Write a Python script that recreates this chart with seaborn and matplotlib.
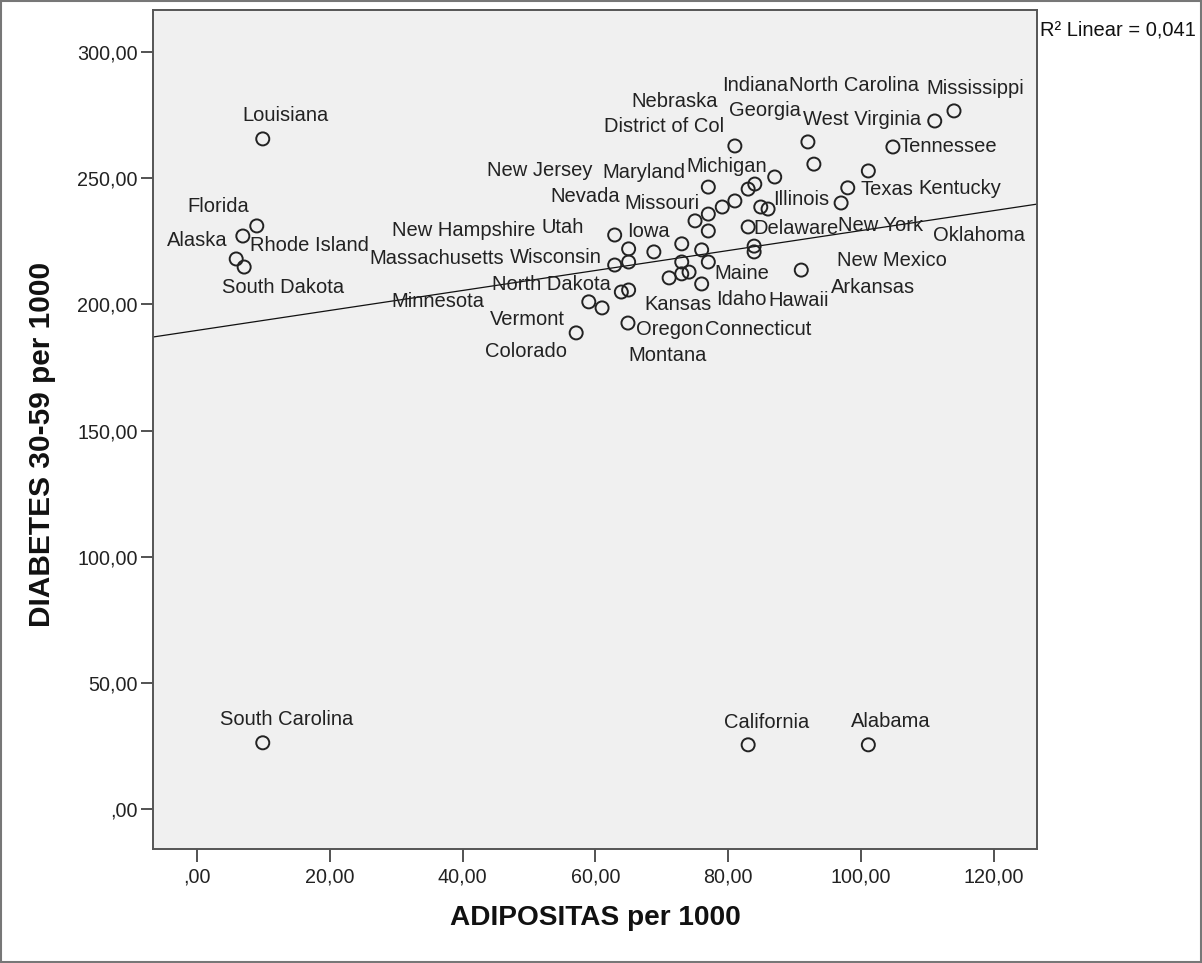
import matplotlib
matplotlib.use("Agg")
import matplotlib.pyplot as plt
import seaborn as sns
import pandas as pd
from matplotlib.ticker import FuncFormatter, FixedLocator
from matplotlib.patches import Rectangle

# ---------------- data ----------------
states = ["Louisiana", "South Carolina", "California", "Alabama", "Mississippi",
          "West Virginia", "Tennessee", "Kentucky", "Texas", "New York",
          "New Mexico", "North Carolina", "Georgia", "Indiana", "District of Col",
          "Michigan", "Nebraska", "Illinois", "Arizona", "Ohio",
          "Missouri", "Maryland", "Oklahoma", "Arkansas", "Delaware",
          "Pennsylvania", "Iowa", "Utah", "Nevada", "New Jersey",
          "Virginia", "Hawaii", "Idaho", "Wisconsin", "New Hampshire",
          "Washington", "Maine", "Kansas", "Wyoming", "Connecticut",
          "Montana", "Massachusetts", "North Dakota", "Vermont", "Minnesota",
          "Colorado", "Oregon", "Florida", "Alaska", "Rhode Island",
          "South Dakota"]

adipositas = [9.9, 9.9, 83.0, 101.1, 114.0,
              111.1, 104.8, 101.1, 98.0, 97.0,
              91.0, 92.0, 92.9, 87.0, 81.0,
              77.0, 84.0, 83.0, 81.0, 79.1,
              77.0, 75.0, 84.9, 86.0, 83.0,
              77.0, 62.9, 65.0, 68.8, 73.0,
              76.0, 83.9, 83.9, 62.9, 65.0,
              73.0, 77.0, 71.1, 73.0, 74.1,
              76.0, 63.9, 65.0, 61.0, 59.0,
              57.1, 64.9, 9.0, 6.9, 5.9,
              7.1]

diabetes = [265.6, 26.2, 25.4, 25.4, 276.7,
            272.7, 262.4, 252.9, 246.2, 240.2,
            213.6, 264.4, 255.6, 250.5, 262.8,
            246.5, 247.7, 245.7, 241.0, 238.6,
            235.8, 233.1, 238.6, 237.8, 230.7,
            229.1, 227.5, 222.0, 220.8, 224.0,
            221.6, 223.1, 220.8, 215.6, 216.8,
            216.8, 216.8, 210.5, 212.1, 212.8,
            208.1, 204.9, 205.7, 198.6, 201.0,
            188.7, 192.6, 231.1, 227.1, 218.0,
            214.8]

unlabeled = ["Arizona", "Ohio", "Pennsylvania", "Virginia", "Washington", "Wyoming"]

x_ticks = [0, 20, 40, 60, 80, 100, 120]
y_ticks = [0, 50, 100, 150, 200, 250, 300]
r2_text = "R\u00b2 Linear = 0,041"
x_title = "ADIPOSITAS per 1000"
y_title = "DIABETES 30-59 per 1000"

# ---------------- layout (label offsets in screen pixels: right, down) ----------------
label_offsets = {
    "Louisiana": (-20, -23), "South Carolina": (-43, -23), "California": (-24, -22),
    "Alabama": (-17, -23), "Mississippi": (-28, -22), "West Virginia": (-132, -1),
    "Tennessee": (7, 0), "Kentucky": (50, 18), "Texas": (13, 2), "New York": (-3, 23),
    "New Mexico": (36, -10), "North Carolina": (-19, -56), "Georgia": (-85, -54),
    "Indiana": (-53, -91), "District of Col": (-131, -19), "Michigan": (-22, -21),
    "Nebraska": (-123, -83), "Illinois": (25, 10), "Missouri": (-84, -11),
    "Maryland": (-93, -48), "Oklahoma": (172, 28), "Arkansas": (63, 78),
    "Delaware": (5, 2), "Iowa": (12, -4), "Utah": (-87, -21), "Nevada": (-103, -55),
    "New Jersey": (-195, -73), "Hawaii": (14, 54), "Idaho": (-38, 48),
    "Wisconsin": (-105, -8), "New Hampshire": (-237, -32), "Maine": (6, 11),
    "Kansas": (-25, 27), "Connecticut": (16, 57), "Montana": (-73, 72),
    "Massachusetts": (-252, -34), "North Dakota": (-137, -6), "Vermont": (-112, 12),
    "Minnesota": (-197, 0), "Colorado": (-91, 19), "Oregon": (8, 6),
    "Florida": (-69, -19), "Alaska": (-76, 4), "Rhode Island": (14, -13),
    "South Dakota": (-22, 20),
}

df = pd.DataFrame({"state": states, "adipositas": adipositas, "diabetes": diabetes})

sns.set_theme(style="ticks")
plt.rcParams["font.family"] = ["Liberation Sans", "DejaVu Sans"]

W, H = 1202, 963
fig = plt.figure(figsize=(W / 100, H / 100), dpi=100)
fig.patch.set_facecolor("white")
ax = fig.add_axes([153 / W, 1 - 849 / H, (1037 - 153) / W, (849 - 10) / H])
ax.set_facecolor("#f0f0f0")

ax.set_xlim(-6.63, 126.5)
ax.set_ylim(-15.9, 316.7)

sns.scatterplot(data=df, x="adipositas", y="diabetes", ax=ax, marker="o", s=88,
                facecolors="none", edgecolor="#222222", linewidth=1.4, legend=False,
                zorder=3)
sns.regplot(data=df, x="adipositas", y="diabetes", ax=ax, scatter=False, ci=None,
            truncate=False, line_kws={"color": "#111111", "linewidth": 0.9})
ax.set_xlim(-6.63, 126.5)
ax.set_ylim(-15.9, 316.7)

for name, xv, yv in zip(states, adipositas, diabetes):
    if name in unlabeled:
        continue
    dx, dy = label_offsets[name]
    ax.annotate(name, (xv, yv), xytext=(dx, -dy), textcoords="offset pixels",
                ha="left", va="center", fontsize=14.5, color="#222222", zorder=4)

def fmt(v, pos):
    s = f"{v:.2f}".replace(".", ",")
    if s.startswith("0,"):
        s = s[1:]
    return s

ax.xaxis.set_major_locator(FixedLocator(x_ticks))
ax.yaxis.set_major_locator(FixedLocator(y_ticks))
ax.xaxis.set_major_formatter(FuncFormatter(fmt))
ax.yaxis.set_major_formatter(FuncFormatter(fmt))
ax.tick_params(axis="both", direction="out", length=9, width=1.3, color="#444444",
               labelsize=14.2, labelcolor="#222222")
ax.tick_params(axis="x", pad=4)
ax.tick_params(axis="y", pad=2)

for sp in ax.spines.values():
    sp.set_visible(True)
    sp.set_color("#555555")
    sp.set_linewidth(1.4)

ax.set_xlabel(x_title, fontsize=20.2, fontweight="bold", color="#111111")
ax.set_ylabel(y_title, fontsize=21.5, fontweight="bold", color="#111111")
ax.xaxis.set_label_coords(0.5, (849 - 918) / 839)
ax.xaxis.label.set_va("center")
ax.yaxis.set_label_coords((42 - 153) / 884, (849 - 444) / 839)
ax.yaxis.label.set_va("center")

fig.text(1040 / W, 1 - 30 / H, r2_text, fontsize=14.5, color="#111111",
         ha="left", va="center")

fig.patches.append(Rectangle((0.0008, 0.001), 0.9984, 0.998, transform=fig.transFigure,
                             fill=False, edgecolor="#777777", linewidth=1.5))

fig.savefig("out.png", dpi=100, facecolor="white")
